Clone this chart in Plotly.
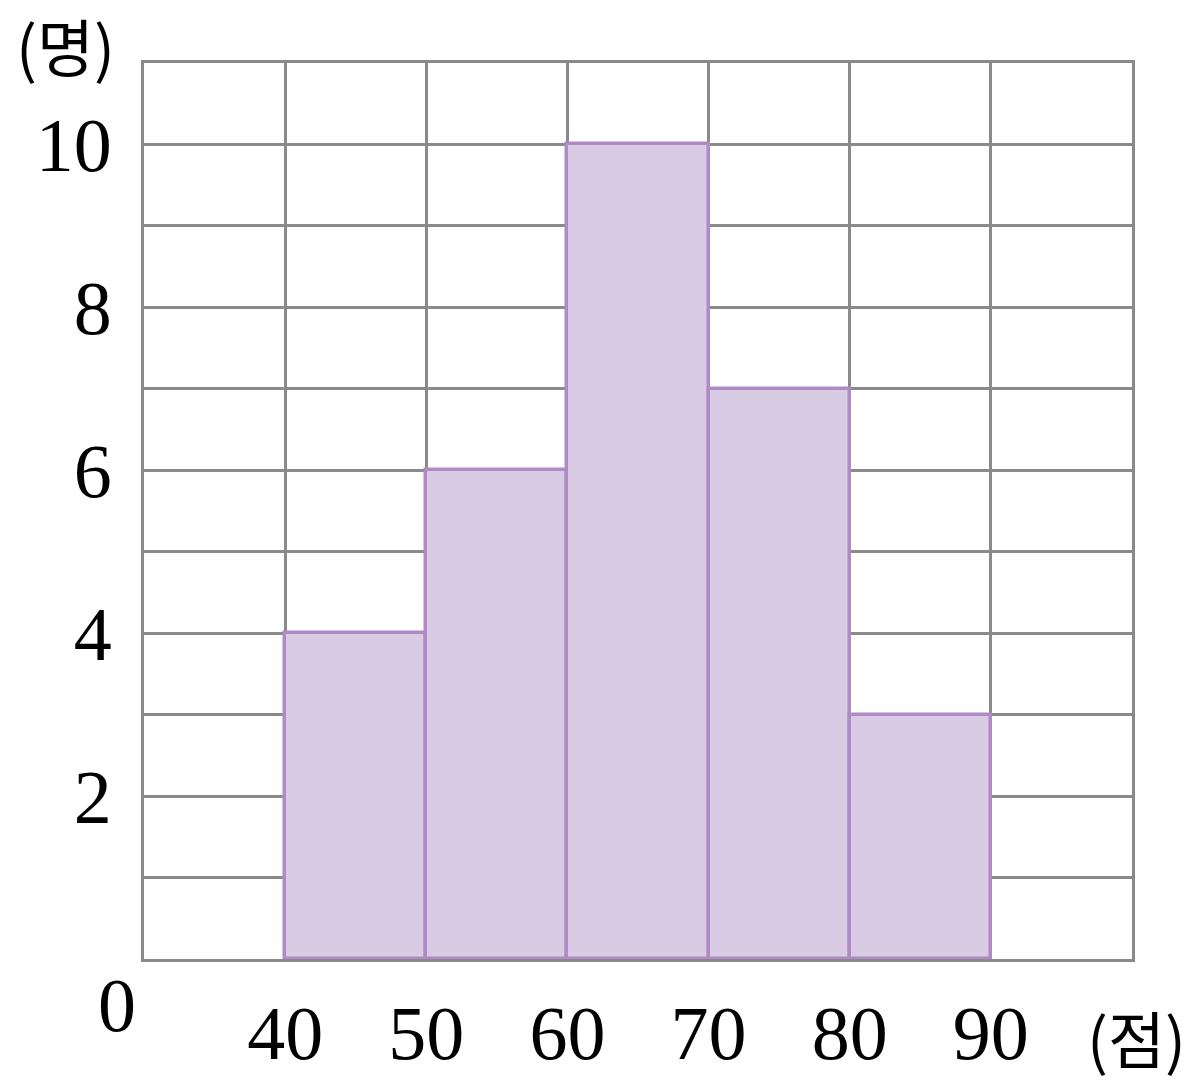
import plotly.graph_objects as go

# Data
class_starts = [40, 50, 60, 70, 80]
class_width = 10
counts = [4, 6, 10, 7, 3]
x_ticks = [30, 40, 50, 60, 70, 80, 90, 100]
x_labels = ["", "40", "50", "60", "70", "80", "90", ""]
y_ticks = list(range(0, 12))
y_labels = ["", "", "2", "", "4", "", "6", "", "8", "", "10", ""]

SERIF = "Liberation Serif, DejaVu Serif, serif"
KR = "Noto Sans CJK KR, Noto Sans, sans-serif"
GRID = "#8a8a8a"

fig = go.Figure()
fig.add_trace(go.Bar(
    x=[s + class_width / 2 for s in class_starts],
    y=counts,
    width=[class_width] * len(counts),
    marker=dict(color="#d9cbe3", line=dict(color="#b08ac4", width=3.5)),
    hoverinfo="skip",
))

fig.update_layout(
    width=1202, height=1085,
    margin=dict(l=144, r=70, t=63, b=126),
    paper_bgcolor="white", plot_bgcolor="white",
    showlegend=False,
    bargap=0,
    font=dict(family=SERIF, size=76, color="black"),
    xaxis=dict(
        range=[30, 100], tickvals=x_ticks, ticktext=x_labels,
        showgrid=True, gridcolor=GRID, gridwidth=2.5,
        showline=True, linecolor=GRID, linewidth=3, mirror=True,
        ticks="", ticklabelstandoff=6, zeroline=False,
        fixedrange=True, automargin=False,
    ),
    yaxis=dict(
        range=[0, 11], tickvals=y_ticks, ticktext=y_labels,
        showgrid=True, gridcolor=GRID, gridwidth=2.5,
        showline=True, linecolor=GRID, linewidth=3, mirror=True,
        ticks="", ticklabelstandoff=14, zeroline=False,
        fixedrange=True, automargin=False,
    ),
)

fig.add_annotation(text="0", x=0, y=0, xref="paper", yref="paper",
                   xanchor="center", yanchor="middle", xshift=-27, yshift=-46,
                   showarrow=False, font=dict(family=SERIF, size=76))
fig.add_annotation(text="(점)", x=1, y=0, xref="paper", yref="paper",
                   xanchor="center", yanchor="middle", xshift=4, yshift=-78,
                   showarrow=False, font=dict(family=KR, size=62))
fig.add_annotation(text="(명)", x=0, y=1, xref="paper", yref="paper",
                   xanchor="center", yanchor="middle", xshift=-79, yshift=18,
                   showarrow=False, font=dict(family=KR, size=62))

fig.write_html("out.html", config={"displayModeBar": False},
               post_script="document.body.style.margin='0';document.body.style.overflow='hidden';")
